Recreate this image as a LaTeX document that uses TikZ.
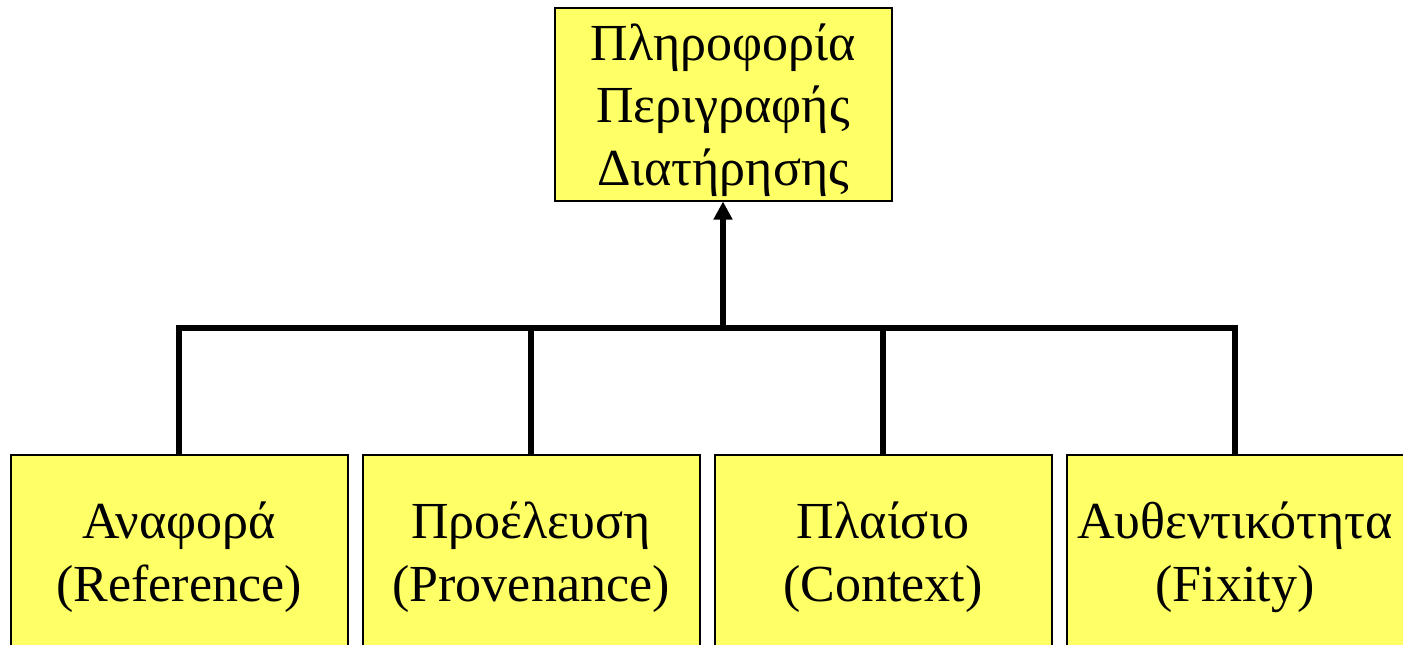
\documentclass[tikz,border=0pt]{standalone}
\usepackage{fontspec}
\setmainfont{Liberation Serif}
\usetikzlibrary{arrows.meta}
\definecolor{boxfill}{HTML}{FFFF66}
\begin{document}
\begin{tikzpicture}[x=1pt,y=-1pt,
  infobox/.style={draw=black, line width=2pt, fill=boxfill, minimum width=337pt,
    minimum height=193pt, inner sep=0pt, align=center,
    font=\fontsize{52}{62.5}\selectfont, text depth=3pt},
  threeline/.style={infobox, text height=165pt},
  twoline/.style={infobox, text height=102.5pt},
  conn/.style={line width=5.5pt, draw=black, line join=miter}]
\useasboundingbox (0,0) rectangle (1403,645);
\node[threeline] (top) at (723,104) {Πληροφορία\\Περιγραφής\\Διατήρησης};
\node[twoline] (b1) at (179,551.5) {Αναφορά\\(Reference)};
\node[twoline] (b2) at (531,551.5) {Προέλευση\\(Provenance)};
\node[twoline] (b3) at (883,551.5) {Πλαίσιο\\(Context)};
\node[twoline] (b4) at (1235,551.5) {Αυθεντικότητα\\(Fixity)};
\coordinate (j) at (723,328);
\draw[conn] (b1.north) |- (j) -| (b4.north);
\draw[conn] (b2.north) -- (b2.north |- j);
\draw[conn] (b3.north) -- (b3.north |- j);
\draw[conn, -{Triangle[length=18pt,width=18pt]}] (j) -- (top.south);
\end{tikzpicture}
\end{document}
